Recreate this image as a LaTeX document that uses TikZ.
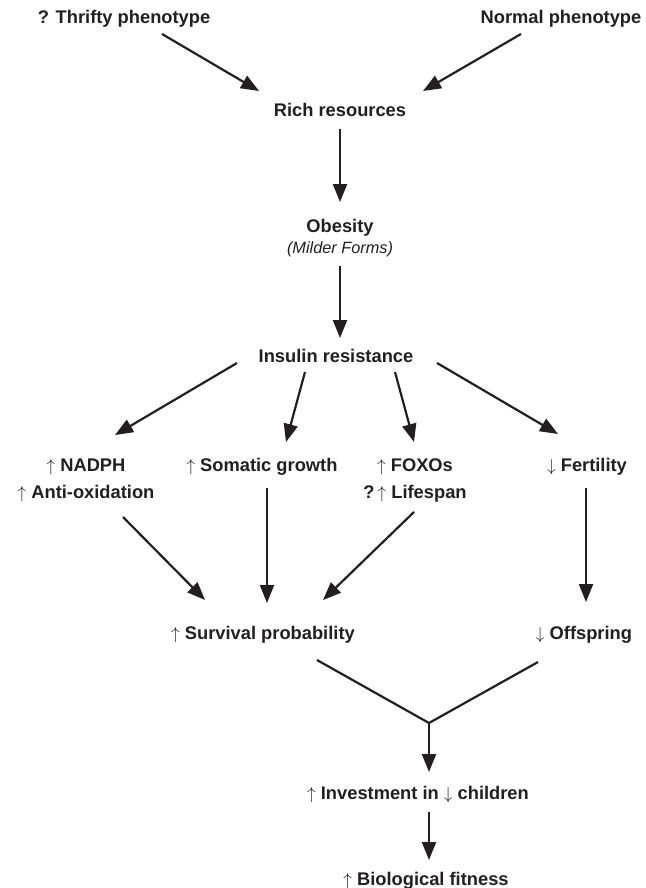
\documentclass[tikz,border=0pt]{standalone}
\usepackage{fontspec}
\setmainfont{Liberation Sans}
\usepackage{xcolor}
\usepackage{tikz}
\usetikzlibrary{arrows.meta,positioning}

\definecolor{ink}{RGB}{35,31,32}

\begin{document}
\begin{tikzpicture}[x=1pt,y=-1pt,
        lbl/.style={inner sep=0pt, anchor=base, text=ink, align=center,
                    font=\fontsize{18.3}{27}\selectfont\bfseries}]
        \tikzstyle{arr} = [draw=ink, line width=2.2pt, -{Triangle[length=18pt,width=14pt]}]
        \tikzstyle{bar} = [draw=ink, line width=2.2pt]
        \useasboundingbox (0,0) rectangle (645,888);

        % top row
        \node[lbl] (thrifty) at (124,24) {? Thrifty phenotype};
        \node[lbl] (normal) at (561,24) {Normal phenotype};
        \node[lbl] (rich) at (340,117) {Rich resources};
        \node[lbl] (obesity) at (340,232) {Obesity};
        \node[lbl, font=\fontsize{16.3}{20}\selectfont\itshape] (milder) at (340,253) {(Milder Forms)};
        \node[lbl] (insulin) at (336,362) {Insulin resistance};

        % effects (base of two-line nodes = last line)
        \node[lbl] (nadph) at (86,498) {$\uparrow$ NADPH\\$\uparrow$ Anti-oxidation};
        \node[lbl] (somatic) at (262,471) {$\uparrow$ Somatic growth};
        \node[lbl] (foxo) at (415,498) {$\uparrow$ FOXOs\\?\,$\uparrow$ Lifespan};
        \node[lbl] (fertility) at (587,471) {$\downarrow$ Fertility};
        \node[lbl] (survival) at (263,639) {$\uparrow$ Survival probability};
        \node[lbl] (offspring) at (584,639) {$\downarrow$ Offspring};
        \node[lbl] (invest) at (418,799) {$\uparrow$ Investment in $\downarrow$ children};
        \node[lbl] (fitness) at (426,885) {$\uparrow$ Biological fitness};
        \coordinate (join) at (429,723);

        \draw[arr] ([shift={(38,10)}]thrifty.base) -- ([shift={(-81,-26)}]rich.base);
        \draw[arr] ([shift={(-40,10)}]normal.base) -- ([shift={(83,-26)}]rich.base);
        \draw[arr] ([shift={(0,12)}]rich.base) -- ([shift={(0,-30)}]obesity.base);
        \draw[arr] ([shift={(0,13)}]milder.base) -- ([shift={(4,-24)}]insulin.base);

        \draw[arr] ([shift={(-99,1)}]insulin.base) -- ([shift={(29,-63)}]nadph.base);
        \draw[arr] ([shift={(-31,10)}]insulin.base) -- ([shift={(24,-29)}]somatic.base);
        \draw[arr] ([shift={(59,10)}]insulin.base) -- ([shift={(-1,-56)}]foxo.base);
        \draw[arr] ([shift={(101,1)}]insulin.base) -- ([shift={(-29,-37)}]fertility.base);

        \draw[arr] ([shift={(37,19)}]nadph.base) -- ([shift={(-58,-39)}]survival.base);
        \draw[arr] ([shift={(5,17)}]somatic.base) -- ([shift={(4,-36)}]survival.base);
        \draw[arr] ([shift={(-1,14)}]foxo.base) -- ([shift={(60,-39)}]survival.base);
        \draw[arr] ([shift={(-1,17)}]fertility.base) -- ([shift={(2,-37)}]offspring.base);

        \draw[bar] ([shift={(54,21)}]survival.base) -- (join);
        \draw[bar] ([shift={(-46,23)}]offspring.base) -- (join);
        \draw[arr] (join) -- ([shift={(11,-27)}]invest.base);
        \draw[arr] ([shift={(11,13)}]invest.base) -- ([shift={(3,-25)}]fitness.base);
\end{tikzpicture}
\end{document}
